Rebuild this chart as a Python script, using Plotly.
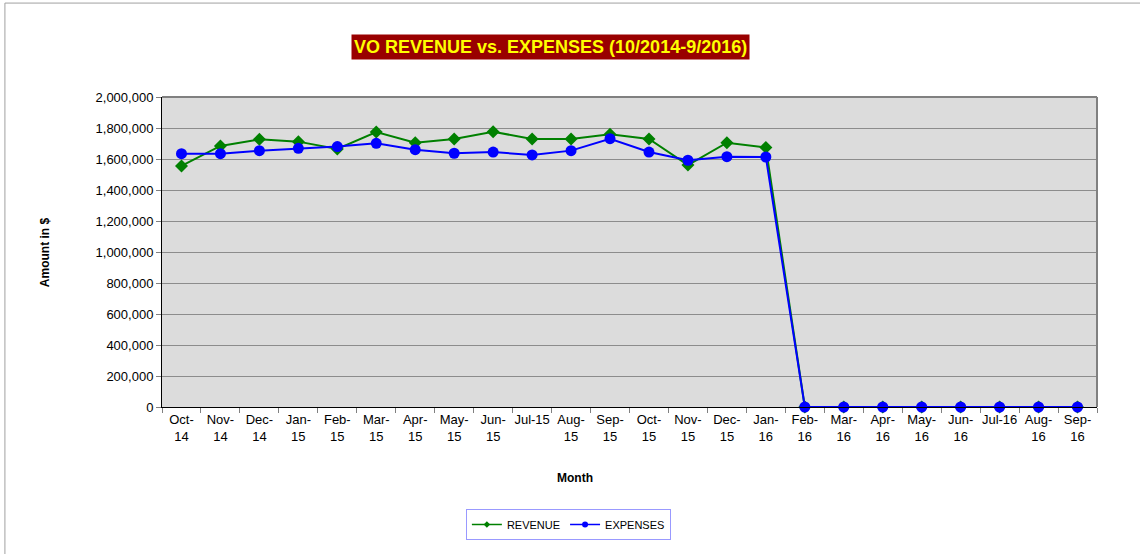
import plotly.graph_objects as go

months = ["Oct-<br>14", "Nov-<br>14", "Dec-<br>14", "Jan-<br>15", "Feb-<br>15", "Mar-<br>15",
          "Apr-<br>15", "May-<br>15", "Jun-<br>15", "Jul-15", "Aug-<br>15", "Sep-<br>15",
          "Oct-<br>15", "Nov-<br>15", "Dec-<br>15", "Jan-<br>16", "Feb-<br>16", "Mar-<br>16",
          "Apr-<br>16", "May-<br>16", "Jun-<br>16", "Jul-16", "Aug-<br>16", "Sep-<br>16"]

revenue = [1555000, 1684000, 1727000, 1712000, 1665000, 1774000, 1705000, 1729000,
           1776000, 1729000, 1729000, 1759000, 1729000, 1561000, 1705000, 1675000,
           0, 0, 0, 0, 0, 0, 0, 0]

expenses = [1634000, 1634000, 1654000, 1669000, 1680000, 1701000, 1660000, 1637000,
            1645000, 1626000, 1654000, 1731000, 1645000, 1592000, 1615000, 1613000,
            0, 0, 0, 0, 0, 0, 0, 0]

font = "Arial, Liberation Sans, sans-serif"
green = "#008000"
blue = "#0000FF"

fig = go.Figure()
fig.add_trace(go.Scatter(
    x=months, y=revenue, name="REVENUE", mode="lines+markers", showlegend=False,
    line=dict(color=green, width=2),
    marker=dict(symbol="diamond", size=10, color=green),
    cliponaxis=False))
fig.add_trace(go.Scatter(
    x=months, y=expenses, name="EXPENSES", mode="lines+markers", showlegend=False,
    line=dict(color=blue, width=2),
    marker=dict(symbol="circle", size=11, color=blue),
    cliponaxis=False))

# legend-only entries with small symbols, like the original
fig.add_trace(go.Scatter(x=[None], y=[None], name="REVENUE", mode="lines+markers",
                         line=dict(color=green, width=1.5),
                         marker=dict(symbol="diamond", size=5, color=green)))
fig.add_trace(go.Scatter(x=[None], y=[None], name="EXPENSES", mode="lines+markers",
                         line=dict(color=blue, width=1.5),
                         marker=dict(symbol="circle", size=6, color=blue)))

fig.update_layout(
    width=1140, height=554,
    margin=dict(l=162, r=43, t=97, b=147),
    paper_bgcolor="white",
    plot_bgcolor="#DCDCDC",
    font=dict(family=font, size=13, color="black"),
    showlegend=True,
    legend=dict(orientation="h", x=0.325, y=-0.329, xanchor="left", yanchor="top",
                bordercolor="#9999FF", borderwidth=1, font=dict(size=11),
                bgcolor="white"),
    annotations=[
        dict(text="<b>VO REVENUE vs. EXPENSES (10/2014-9/2016)</b>", xref="paper", yref="paper",
             x=0.416, y=1.161, xanchor="center", yanchor="middle", showarrow=False,
             bgcolor="#990000", borderpad=2, font=dict(color="#FFFF00", size=18)),
        dict(text="<b>Amount in $</b>", xref="paper", yref="paper", x=-0.125, y=0.5,
             xanchor="center", yanchor="middle",
             textangle=-90, showarrow=False, font=dict(size=12)),
        dict(text="<b>Month</b>", xref="paper", yref="paper", x=0.442, y=-0.229,
             xanchor="center", yanchor="middle", showarrow=False, font=dict(size=12)),
    ],
    shapes=[
        dict(type="line", xref="paper", yref="paper", x0=0, x1=1, y0=1, y1=1,
             line=dict(color="#808080", width=2), layer="above"),
        dict(type="line", xref="paper", yref="paper", x0=1, x1=1, y0=0, y1=1,
             line=dict(color="#808080", width=2), layer="above"),
        dict(type="rect", xref="paper", yref="paper", x0=-0.168, x1=1.2, y0=-0.6, y1=1.303,
             line=dict(color="#A0A0A0", width=1), layer="below"),
    ],
)

fig.update_xaxes(
    type="category", range=[-0.5, 23.5], showgrid=False, showline=True,
    linecolor="black", linewidth=1,
    ticks="outside", tickson="boundaries", ticklen=5, tickcolor="#808080",
    tickfont=dict(size=13), tickangle=0)
fig.update_yaxes(
    range=[0, 2000000], dtick=200000, tickformat=",d", showgrid=True,
    gridcolor="#8C8C8C", gridwidth=1, showline=True, linecolor="black", linewidth=1,
    ticks="outside", ticklen=5, tickcolor="#808080", zeroline=False,
    tickfont=dict(size=13))

# drop the default body margin so the figure sits at the page corner
fig.write_html("out.html", config={"displayModeBar": False},
               post_script="document.body.style.margin='0';")
